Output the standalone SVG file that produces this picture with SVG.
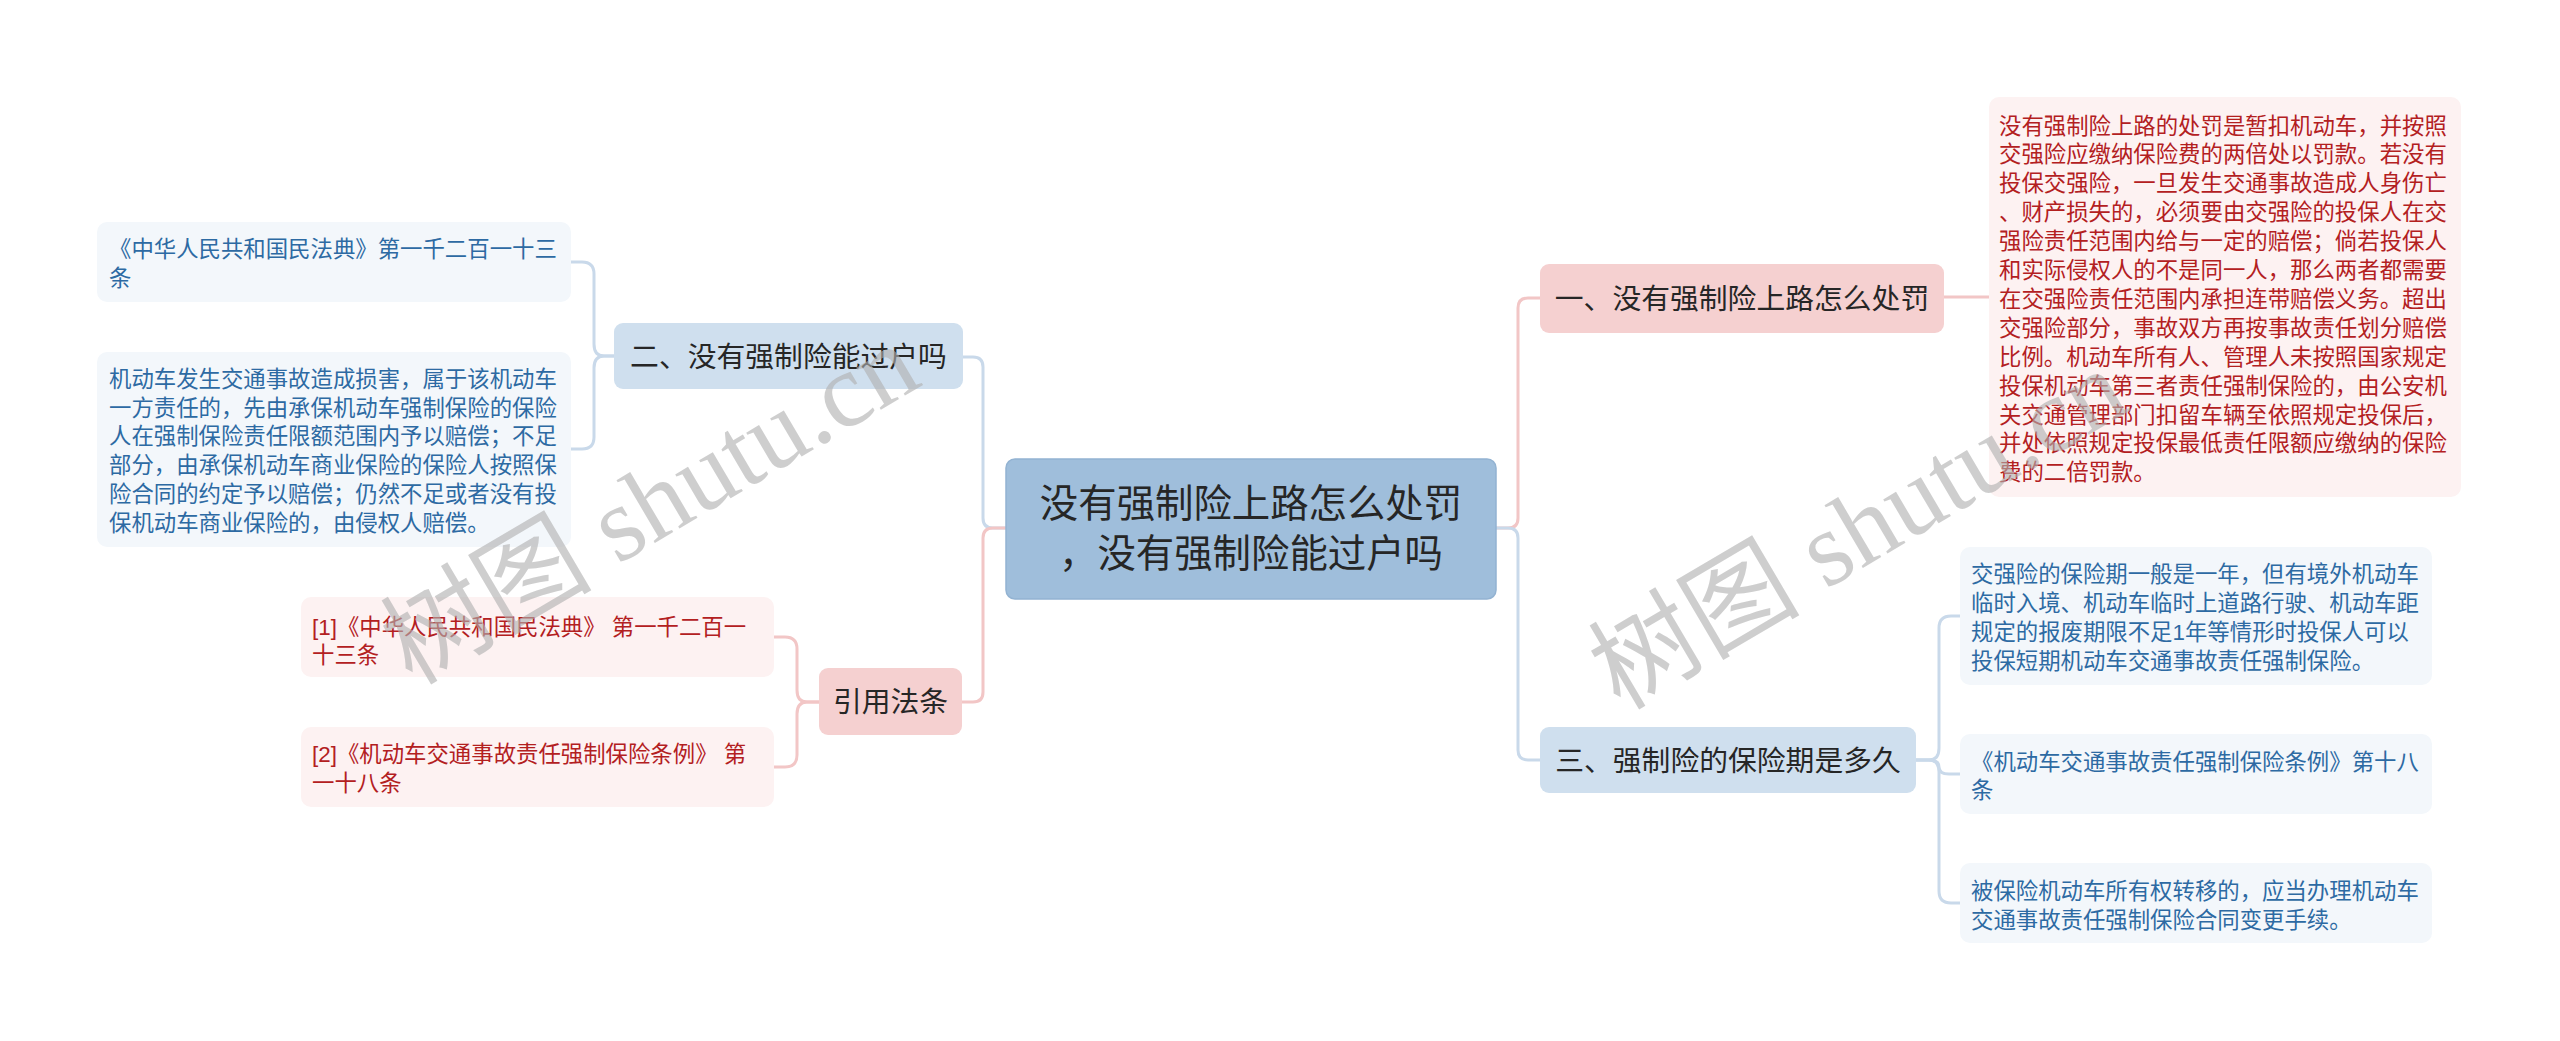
<svg xmlns="http://www.w3.org/2000/svg" width="2560" height="1041" viewBox="0 0 2560 1041">
<style>
text{font-family:"Liberation Sans","Noto Sans CJK SC",sans-serif;}
.root-box{fill:#9fbedb;stroke:#93b3d2;stroke-width:1.5;}
.root-t{font-size:38.4px;fill:#262626;text-anchor:middle;}
.b-blue{fill:#cfdfee;}
.b-pink{fill:#f5d0d0;}
.b-t{font-size:28.8px;fill:#262626;text-anchor:middle;}
.l-blue{fill:#f3f7fb;}
.l-pink{fill:#fdf2f2;}
.t-blue{font-size:22.4px;fill:#2d6aa3;}
.t-pink{font-size:22.4px;fill:#b3201f;}
.c-blue{fill:none;stroke:#c9d9ea;stroke-width:3;}
.c-pink{fill:none;stroke:#f2c6c6;stroke-width:3;}
.wm{font-family:"Liberation Serif","Noto Sans CJK SC",serif;font-size:106px;fill:#b0b0b0;fill-opacity:0.62;}
</style>
<rect width="2560" height="1041" fill="#ffffff"/>
<g id="connectors">
<path class="c-blue" d="M1006,528 H993 Q983,528 983,518 V367 Q983,357 973,357 H963"/>
<path class="c-pink" d="M1006,528 H993 Q983,528 983,538 V692 Q983,702 973,702 H962"/>
<path class="c-pink" d="M1496,528 H1508 Q1518,528 1518,518 V308 Q1518,298 1528,298 H1540"/>
<path class="c-blue" d="M1496,528 H1508 Q1518,528 1518,538 V750 Q1518,760 1528,760 H1540"/>
<path class="c-blue" d="M614,356 H604 Q594,356 594,344 V274 Q594,262 582,262 H571"/>
<path class="c-blue" d="M614,356 H604 Q594,356 594,368 V437 Q594,449 582,449 H571"/>
<path class="c-pink" d="M819,702 H807 Q797,702 797,690 V649 Q797,637 785,637 H774"/>
<path class="c-pink" d="M819,702 H807 Q797,702 797,714 V755 Q797,767 785,767 H774"/>
<path class="c-pink" d="M1944,297 H1989"/>
<path class="c-blue" d="M1916,760 H1929 Q1939,760 1939,748 V628 Q1939,616 1951,616 H1960"/>
<path class="c-blue" d="M1916,760 H1929 Q1939,760 1939,767 Q1939,774 1949,774 H1960"/>
<path class="c-blue" d="M1916,760 H1929 Q1939,760 1939,772 V891 Q1939,903 1951,903 H1960"/>
</g>
<g id="root">
<rect class="root-box" x="1006" y="459" width="490" height="140" rx="9"/>
<text class="root-t" x="1251" y="517">没有强制险上路怎么处罚</text>
<text class="root-t" x="1251" y="567">，没有强制险能过户吗</text>
</g>
<g id="node-er">
<rect class="b-blue" x="614" y="323" width="349" height="66" rx="9"/>
<text class="b-t" x="788.5" y="366.5">二、没有强制险能过户吗</text>
</g>
<g id="node-er-1">
<rect class="l-blue" x="97" y="222" width="474" height="80" rx="10"/>
<text class="t-blue" x="109" y="257">《中华人民共和国民法典》第一千二百一十三</text>
<text class="t-blue" x="109" y="286">条</text>
</g>
<g id="node-er-2">
<rect class="l-blue" x="97" y="352" width="474" height="195" rx="10"/>
<text class="t-blue" x="109" y="386.5">机动车发生交通事故造成损害，属于该机动车</text>
<text class="t-blue" x="109" y="415.5">一方责任的，先由承保机动车强制保险的保险</text>
<text class="t-blue" x="109" y="444.3">人在强制保险责任限额范围内予以赔偿；不足</text>
<text class="t-blue" x="109" y="473.1">部分，由承保机动车商业保险的保险人按照保</text>
<text class="t-blue" x="109" y="502">险合同的约定予以赔偿；仍然不足或者没有投</text>
<text class="t-blue" x="109" y="530.8">保机动车商业保险的，由侵权人赔偿。</text>
</g>
<g id="node-yinyong">
<rect class="b-pink" x="819" y="668" width="143" height="67" rx="9"/>
<text class="b-t" x="890.5" y="712">引用法条</text>
</g>
<g id="node-ref-1">
<rect class="l-pink" x="301" y="597" width="473" height="80" rx="10"/>
<text class="t-pink" x="312" y="634.5">[1]《中华人民共和国民法典》 第一千二百一</text>
<text class="t-pink" x="312" y="663.3">十三条</text>
</g>
<g id="node-ref-2">
<rect class="l-pink" x="301" y="727" width="473" height="80" rx="10"/>
<text class="t-pink" x="312" y="762">[2]《机动车交通事故责任强制保险条例》 第</text>
<text class="t-pink" x="312" y="790.8">一十八条</text>
</g>
<g id="node-yi">
<rect class="b-pink" x="1540" y="264" width="404" height="69" rx="9"/>
<text class="b-t" x="1742" y="308.5">一、没有强制险上路怎么处罚</text>
</g>
<g id="node-yi-1">
<rect class="l-pink" x="1989" y="97" width="472" height="400" rx="10"/>
<text class="t-pink" x="1999" y="133.5">没有强制险上路的处罚是暂扣机动车，并按照</text>
<text class="t-pink" x="1999" y="162.4">交强险应缴纳保险费的两倍处以罚款。若没有</text>
<text class="t-pink" x="1999" y="191.3">投保交强险，一旦发生交通事故造成人身伤亡</text>
<text class="t-pink" x="1999" y="220.2">、财产损失的，必须要由交强险的投保人在交</text>
<text class="t-pink" x="1999" y="249.1">强险责任范围内给与一定的赔偿；倘若投保人</text>
<text class="t-pink" x="1999" y="278">和实际侵权人的不是同一人，那么两者都需要</text>
<text class="t-pink" x="1999" y="306.9">在交强险责任范围内承担连带赔偿义务。超出</text>
<text class="t-pink" x="1999" y="335.8">交强险部分，事故双方再按事故责任划分赔偿</text>
<text class="t-pink" x="1999" y="364.7">比例。机动车所有人、管理人未按照国家规定</text>
<text class="t-pink" x="1999" y="393.6">投保机动车第三者责任强制保险的，由公安机</text>
<text class="t-pink" x="1999" y="422.5">关交通管理部门扣留车辆至依照规定投保后，</text>
<text class="t-pink" x="1999" y="451.4">并处依照规定投保最低责任限额应缴纳的保险</text>
<text class="t-pink" x="1999" y="480.3">费的二倍罚款。</text>
</g>
<g id="node-san">
<rect class="b-blue" x="1540" y="727" width="376" height="66" rx="9"/>
<text class="b-t" x="1728" y="770.5">三、强制险的保险期是多久</text>
</g>
<g id="node-san-1">
<rect class="l-blue" x="1960" y="547" width="472" height="138" rx="10"/>
<text class="t-blue" x="1971" y="582">交强险的保险期一般是一年，但有境外机动车</text>
<text class="t-blue" x="1971" y="610.9">临时入境、机动车临时上道路行驶、机动车距</text>
<text class="t-blue" x="1971" y="639.8">规定的报废期限不足1年等情形时投保人可以</text>
<text class="t-blue" x="1971" y="668.7">投保短期机动车交通事故责任强制保险。</text>
</g>
<g id="node-san-2">
<rect class="l-blue" x="1960" y="734" width="472" height="80" rx="10"/>
<text class="t-blue" x="1971" y="769.5">《机动车交通事故责任强制保险条例》第十八</text>
<text class="t-blue" x="1971" y="798.3">条</text>
</g>
<g id="node-san-3">
<rect class="l-blue" x="1960" y="863" width="472" height="80" rx="10"/>
<text class="t-blue" x="1971" y="899">被保险机动车所有权转移的，应当办理机动车</text>
<text class="t-blue" x="1971" y="927.8">交通事故责任强制保险合同变更手续。</text>
</g>
<g id="watermarks">
<text class="wm" transform="translate(412,686) rotate(-30.5)">树图 shutu.cn</text>
<text class="wm" transform="translate(1620,711) rotate(-30.5)">树图 shutu.cn</text>
</g>
</svg>
